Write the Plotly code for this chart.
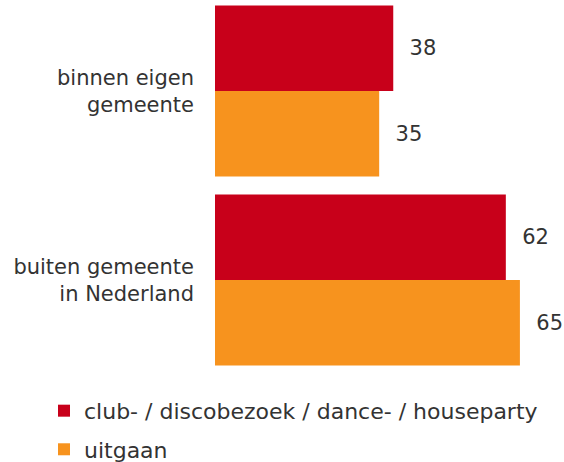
import plotly.graph_objects as go

categories = ["binnen eigen<br>gemeente", "buiten gemeente<br>in Nederland"]
club = [38, 62]
uitgaan = [35, 65]
series_names = ["club- / discobezoek / dance- / houseparty", "uitgaan"]

red = "#C8001A"
orange = "#F7931E"
font = dict(family="DejaVu Sans, Verdana, sans-serif", size=21, color="#333333")

fig = go.Figure()
fig.add_trace(go.Bar(y=categories, x=club, name=series_names[0], orientation="h",
                     marker=dict(color=red, line=dict(width=0)),
                     texttemplate="\u00a0\u00a0%{x}", textposition="outside",
                     cliponaxis=False, legendgroup="a"))
fig.add_trace(go.Bar(y=categories, x=uitgaan, name=series_names[1], orientation="h",
                     marker=dict(color=orange, line=dict(width=0)),
                     texttemplate="\u00a0\u00a0%{x}", textposition="outside",
                     cliponaxis=False, legendgroup="b"))

fig.update_layout(
    width=564, height=462,
    margin=dict(l=215, r=0, t=0, b=82, autoexpand=False),
    barmode="group", bargap=0.095, bargroupgap=0,
    plot_bgcolor="white", paper_bgcolor="white",
    font=font,
    legend=dict(x=-0.49, y=-0.026, xanchor="left", yanchor="top", orientation="v",
                tracegroupgap=7, font=dict(font, size=22), bgcolor="rgba(0,0,0,0)"),
)
fig.update_xaxes(range=[0, 74.4], showticklabels=False, showgrid=False,
                 zeroline=False, showline=False, automargin=False)
fig.update_yaxes(range=[1.529, -0.4815], showgrid=False, showline=False, zeroline=False,
                 ticks="", ticklabelstandoff=20, tickfont=font, automargin=False)

# page body has a default 8px margin; drop it so the figure fills the window
fig.write_html("out.html", config={"displayModeBar": False},
               post_script="document.body.style.margin='0';")
